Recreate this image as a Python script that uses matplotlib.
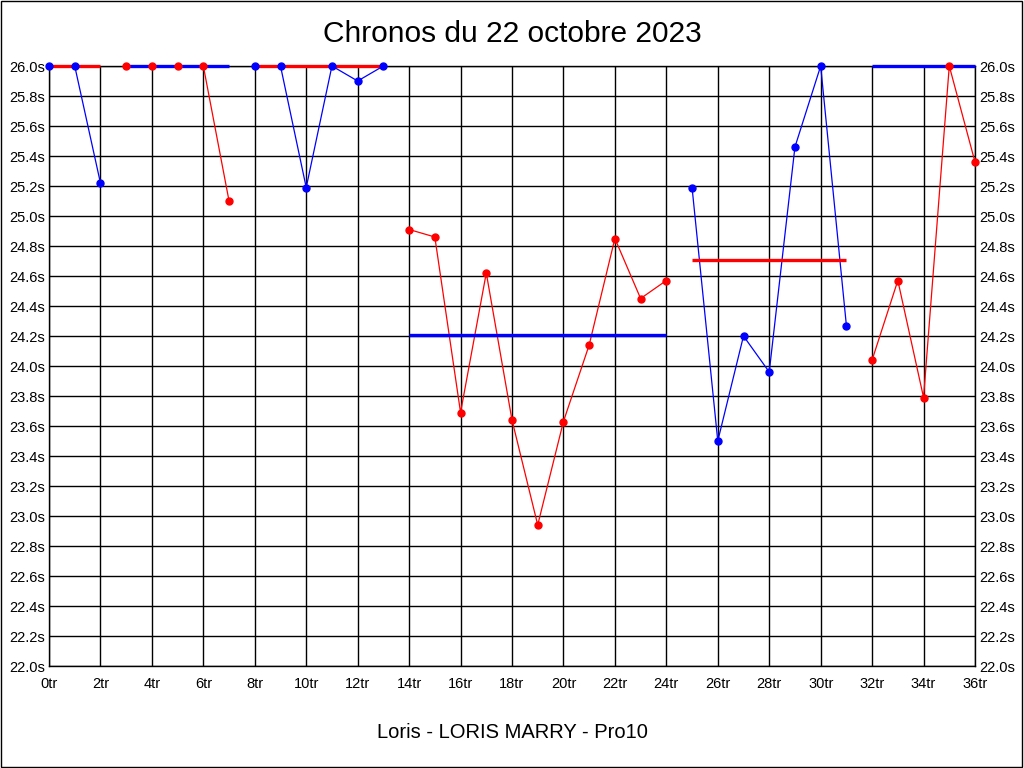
import matplotlib
matplotlib.use('Agg')
import matplotlib.pyplot as plt
from matplotlib.patches import Rectangle

plt.rcParams['font.family'] = ['Liberation Sans', 'DejaVu Sans']

# laps grouped by run, each run alternates colour
run_laps = [
    [0, 1, 2],
    [3, 4, 5, 6, 7],
    [8, 9, 10, 11, 12, 13],
    [14, 15, 16, 17, 18, 19, 20, 21, 22, 23, 24],
    [25, 26, 27, 28, 29, 30, 31],
    [32, 33, 34, 35, 36],
]
run_times = [
    [26.0, 26.0, 25.22],
    [26.0, 26.0, 26.0, 26.0, 25.10],
    [26.0, 26.0, 25.19, 26.0, 25.90, 26.0],
    [24.91, 24.86, 23.69, 24.62, 23.64, 22.94, 23.63, 24.14, 24.85, 24.45, 24.57],
    [25.19, 23.50, 24.20, 23.96, 25.46, 26.0, 24.27],
    [24.04, 24.57, 23.79, 26.0, 25.36],
]
run_colors = ['#0000ff', '#ff0000', '#0000ff', '#ff0000', '#0000ff', '#ff0000']
avg_colors = ['#ff0000', '#0000ff', '#ff0000', '#0000ff', '#ff0000', '#0000ff']
run_avg = [26.0, 26.0, 26.0, 24.21, 24.71, 26.0]

x_ticks = list(range(0, 37, 2))
x_labels = [f'{v}tr' for v in x_ticks]
y_ticks = [22.0 + 0.2 * i for i in range(21)]
y_labels = [f'{v:.1f}s' for v in y_ticks]

title = 'Chronos du 22 octobre 2023'
xlabel = 'Loris - LORIS MARRY - Pro10'

fig = plt.figure(figsize=(10.24, 7.68), dpi=100)
ax = fig.add_axes([49 / 1024, 102 / 768, 926 / 1024, 600 / 768])

for laps, times, c, ac, avg in zip(run_laps, run_times, run_colors, avg_colors, run_avg):
    ax.plot(laps, times, color=c, lw=0.9, zorder=2)
    ax.plot([laps[0], laps[-1]], [avg, avg], color=ac, lw=2.4, zorder=3,
            solid_capstyle='butt', clip_on=False)
    ax.plot(laps, times, ls='none', marker='o', ms=5, color=c, zorder=4, clip_on=False)

ax.set_xlim(0, 36)
ax.set_ylim(22.0, 26.0)
ax.set_xticks(x_ticks)
ax.set_xticklabels(x_labels)
ax.set_yticks(y_ticks)
ax.set_yticklabels(y_labels)
ax.tick_params(length=0, labelsize=10.5)
ax.tick_params(axis='x', pad=8)
ax.tick_params(axis='y', labelright=True, pad=3)
ax.grid(True, color='black', lw=1)
ax.set_axisbelow(True)
for s in ax.spines.values():
    s.set_color('black')
    s.set_linewidth(1)

fig.text(0.5, 1 - 34 / 768, title, ha='center', va='center', fontsize=21.5)
fig.text(0.5, 1 - 733 / 768, xlabel, ha='center', va='center', fontsize=14.5)
fig.patches.append(Rectangle((0.0005, 0.0007), 0.998, 0.998, transform=fig.transFigure,
                             fill=False, edgecolor='black', lw=1))

fig.savefig('out.png', dpi=100)
